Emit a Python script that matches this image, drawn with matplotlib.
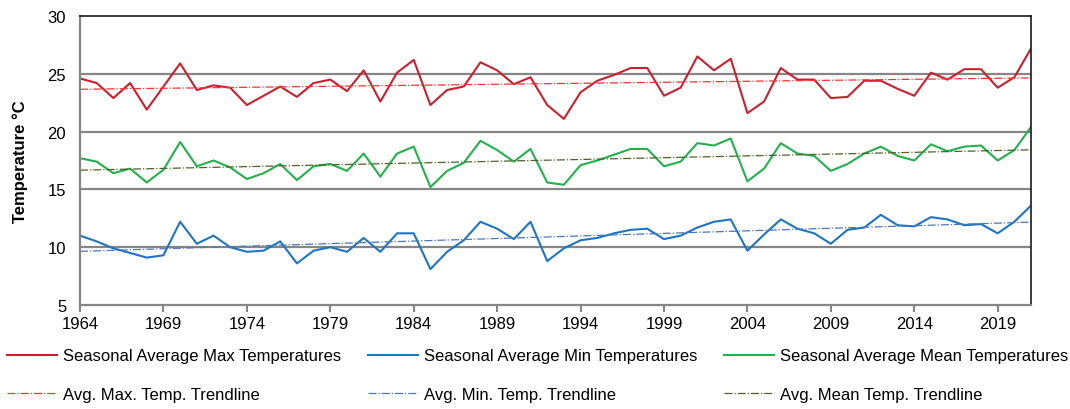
import numpy as np
import matplotlib
matplotlib.use('agg')
import matplotlib.pyplot as plt

plt.rcParams['font.family'] = ['Liberation Sans', 'DejaVu Sans']

years = list(range(1964, 2022))

max_temp = [24.6, 24.2, 22.9, 24.2, 21.9, 23.9, 25.9, 23.6, 24.0, 23.8,
            22.3, 23.1, 23.9, 23.0, 24.2, 24.5, 23.5, 25.3, 22.6, 25.1,
            26.2, 22.3, 23.6, 23.9, 26.0, 25.3, 24.1, 24.7, 22.3, 21.1,
            23.4, 24.4, 24.9, 25.5, 25.5, 23.1, 23.8, 26.5, 25.3, 26.3,
            21.6, 22.6, 25.5, 24.5, 24.5, 22.9, 23.0, 24.4, 24.4, 23.7,
            23.1, 25.1, 24.5, 25.4, 25.4, 23.8, 24.7, 27.2]

min_temp = [11.0, 10.5, 9.9, 9.5, 9.1, 9.3, 12.2, 10.3, 11.0, 10.0,
            9.6, 9.7, 10.5, 8.6, 9.7, 10.0, 9.6, 10.8, 9.6, 11.2,
            11.2, 8.1, 9.6, 10.6, 12.2, 11.6, 10.7, 12.2, 8.8, 9.9,
            10.6, 10.8, 11.2, 11.5, 11.6, 10.7, 11.0, 11.7, 12.2, 12.4,
            9.7, 11.1, 12.4, 11.6, 11.2, 10.3, 11.5, 11.7, 12.8, 11.9,
            11.8, 12.6, 12.4, 11.9, 12.0, 11.2, 12.2, 13.6]

mean_temp = [17.7, 17.4, 16.4, 16.8, 15.6, 16.7, 19.1, 17.0, 17.5, 16.9,
             15.9, 16.4, 17.2, 15.8, 17.0, 17.2, 16.6, 18.1, 16.1, 18.1,
             18.7, 15.2, 16.6, 17.3, 19.2, 18.4, 17.4, 18.5, 15.6, 15.4,
             17.1, 17.5, 18.0, 18.5, 18.5, 17.0, 17.4, 19.0, 18.8, 19.4,
             15.7, 16.8, 19.0, 18.1, 17.9, 16.6, 17.2, 18.1, 18.7, 17.9,
             17.5, 18.9, 18.3, 18.7, 18.8, 17.5, 18.4, 20.4]

x_ticks = list(range(1964, 2020, 5))

fig = plt.figure(figsize=(10.7, 4.1), dpi=100)
ax = fig.add_axes([0.0748, 0.2537, 0.8888, 0.7048])

x = np.array(years)

# linear trendlines from the series themselves
def trend(y):
	k, b = np.polyfit(x, y, 1)
	return k * x + b

l1, = ax.plot(x, max_temp, color='#C8202F', lw=1.5, label='Seasonal Average Max Temperatures')
l2, = ax.plot(x, min_temp, color='#1F74C2', lw=1.5, label='Seasonal Average Min Temperatures')
l3, = ax.plot(x, mean_temp, color='#22B14C', lw=1.5, label='Seasonal Average Mean Temperatures')
t1, = ax.plot(x, trend(max_temp), color='#FF3030', lw=0.9, ls='-.', label='Avg. Max. Temp. Trendline')
t2, = ax.plot(x, trend(min_temp), color='#4A76C0', lw=0.9, ls='-.', label='Avg. Min. Temp. Trendline')
t3, = ax.plot(x, trend(mean_temp), color='#4F6228', lw=0.9, ls='-.', label='Avg. Mean Temp. Trendline')

ax.set_xlim(1964, 2021)
ax.set_ylim(5, 30)
ax.set_xticks(x_ticks)
ax.set_yticks([5, 10, 15, 20, 25, 30])
for v in [10, 15, 20, 25]:
	ax.axhline(v, color='#868686', lw=1.6, zorder=0)

for s in ['left', 'bottom']:
	ax.spines[s].set_color('#868686')
	ax.spines[s].set_linewidth(1.6)
for s in ['top', 'right']:
	ax.spines[s].set_color('#1a1a1a')
	ax.spines[s].set_linewidth(1.2)

ax.tick_params(axis='x', direction='out', length=5, width=1.5, color='#868686', labelsize=12, pad=3)
ax.tick_params(axis='y', length=0, labelsize=12, pad=10)

ax.set_ylabel('Temperature \u00b0C', fontsize=12, fontweight='bold', labelpad=14)

fig.legend(handles=[l1, t1, l2, t2, l3, t3], ncol=3, loc='upper left',
	bbox_to_anchor=(0.002, 0.16), frameon=False, fontsize=12,
	handlelength=3.0, handletextpad=0.35, columnspacing=1.62,
	labelspacing=1.4, borderaxespad=0, borderpad=0.3)

plt.savefig('out.png', dpi=100)
plt.close()
